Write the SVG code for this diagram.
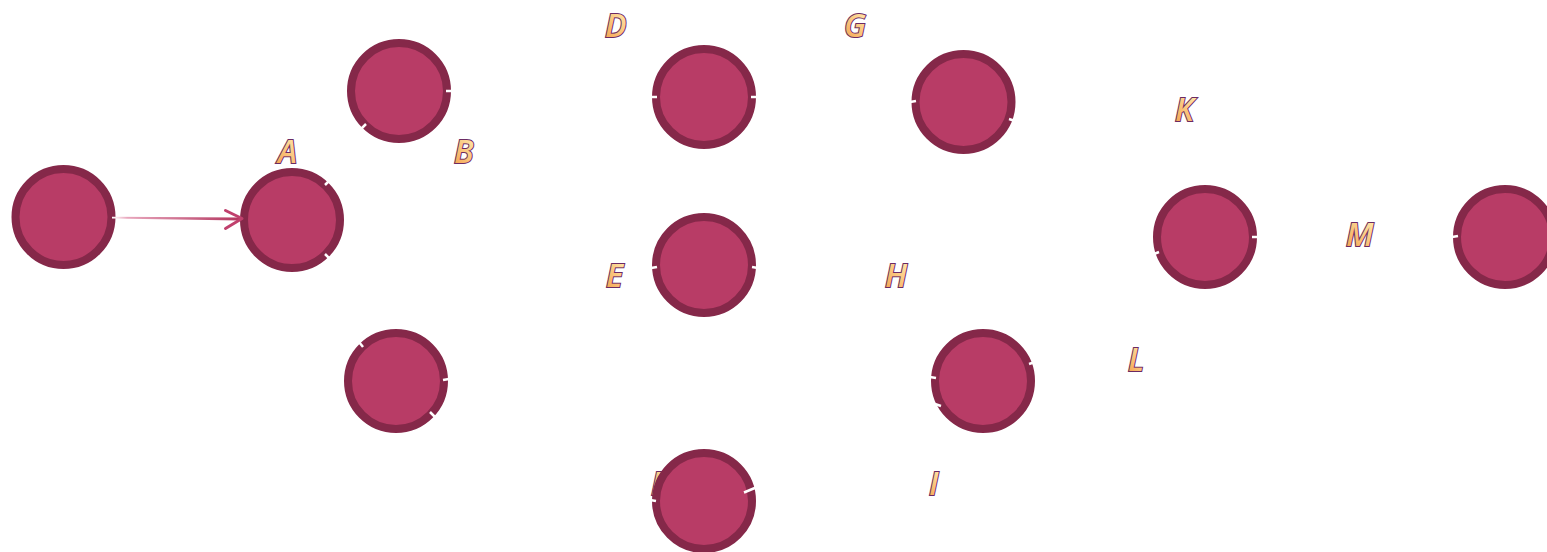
<svg xmlns="http://www.w3.org/2000/svg" width="1547" height="552" viewBox="0 0 1547 552">
<defs>
<linearGradient id="lblGrad" x1="0" y1="1" x2="0.6" y2="0">
<stop offset="0" stop-color="#f39a45"/>
<stop offset="1" stop-color="#ffe6a8"/>
</linearGradient>
<linearGradient id="edgeGrad" x1="0" y1="0" x2="1" y2="0">
<stop offset="0" stop-color="#ffffff"/>
<stop offset="0.12" stop-color="#e8a6bc"/>
<stop offset="1" stop-color="#b3365f"/>
</linearGradient>
<style>
.node circle{fill:#b83c66;stroke:#852849;stroke-width:8}
.lbl{font-family:"Open Sans","Noto Sans",sans-serif;font-style:italic;font-weight:600;font-size:32px;fill:url(#lblGrad);stroke:#6b2a63;stroke-width:2;paint-order:stroke fill}
.nick{stroke:#ffffff;stroke-width:2.5;stroke-linecap:butt}
.arrowhead{fill:none;stroke:#c0406d;stroke-width:3;stroke-linecap:round;stroke-linejoin:round}
</style>
</defs>
<rect width="1547" height="552" fill="#ffffff"/>
<g id="labels">
<text class="lbl" x="605" y="37">D</text>
<text class="lbl" x="844" y="37">G</text>
<text class="lbl" x="278" y="163">A</text>
<text class="lbl" x="454" y="163">B</text>
<text class="lbl" x="1175" y="121">K</text>
<text class="lbl" x="606" y="287">E</text>
<text class="lbl" x="885" y="287">H</text>
<text class="lbl" x="1346" y="246">M</text>
<text class="lbl" x="1128" y="371">L</text>
<text class="lbl" x="929" y="495">I</text>
<text class="lbl" x="651" y="495">F</text>
</g>
<g id="n0" class="node"><circle cx="63.5" cy="217" r="48"/></g>
<g id="n1" class="node"><circle cx="292" cy="220" r="48"/></g>
<g id="n2" class="node"><circle cx="399" cy="91" r="48"/></g>
<g id="n3" class="node"><circle cx="396" cy="381" r="48"/></g>
<g id="n4" class="node"><circle cx="704" cy="97" r="48"/></g>
<g id="n5" class="node"><circle cx="704" cy="265" r="48"/></g>
<g id="n6" class="node"><circle cx="704" cy="501" r="48"/></g>
<g id="n7" class="node"><circle cx="963.5" cy="102" r="48"/></g>
<g id="n8" class="node"><circle cx="983" cy="381" r="48"/></g>
<g id="n9" class="node"><circle cx="1205" cy="237" r="48"/></g>
<g id="n10" class="node"><circle cx="1505" cy="237" r="48"/></g>
<g id="connectors">
<path d="M112,216.8 L240,217.6 L240,220.6 L112,218.4 Z" fill="url(#edgeGrad)"/>
<polyline class="arrowhead" points="225.5,210.5 242,218.5 225.5,228.5"/>
<line class="nick" x1="325" y1="185" x2="330" y2="180"/>
<line class="nick" x1="325" y1="254" x2="330" y2="259"/>
<line class="nick" x1="446" y1="91" x2="452" y2="91"/>
<line class="nick" x1="366" y1="124" x2="361" y2="129"/>
<line class="nick" x1="363" y1="347" x2="359" y2="342"/>
<line class="nick" x1="443" y1="380" x2="449" y2="379"/>
<line class="nick" x1="430" y1="412" x2="435" y2="417"/>
<line class="nick" x1="651" y1="97" x2="657" y2="97"/>
<line class="nick" x1="751" y1="97" x2="757" y2="97"/>
<line class="nick" x1="651" y1="268" x2="657" y2="267"/>
<line class="nick" x1="752" y1="267" x2="758" y2="268"/>
<line class="nick" x1="650" y1="500" x2="656" y2="501"/>
<line class="nick" x1="744" y1="492.5" x2="756" y2="487.5"/>
<line class="nick" x1="910" y1="102" x2="916" y2="101"/>
<line class="nick" x1="1009" y1="119" x2="1015" y2="121"/>
<line class="nick" x1="930" y1="377" x2="936" y2="378"/>
<line class="nick" x1="935" y1="404" x2="941" y2="406"/>
<line class="nick" x1="1029" y1="364" x2="1035" y2="362"/>
<line class="nick" x1="1252" y1="237" x2="1258" y2="237"/>
<line class="nick" x1="1154" y1="254" x2="1159" y2="252"/>
<line class="nick" x1="1452" y1="237" x2="1458" y2="236"/>
</g>
</svg>
